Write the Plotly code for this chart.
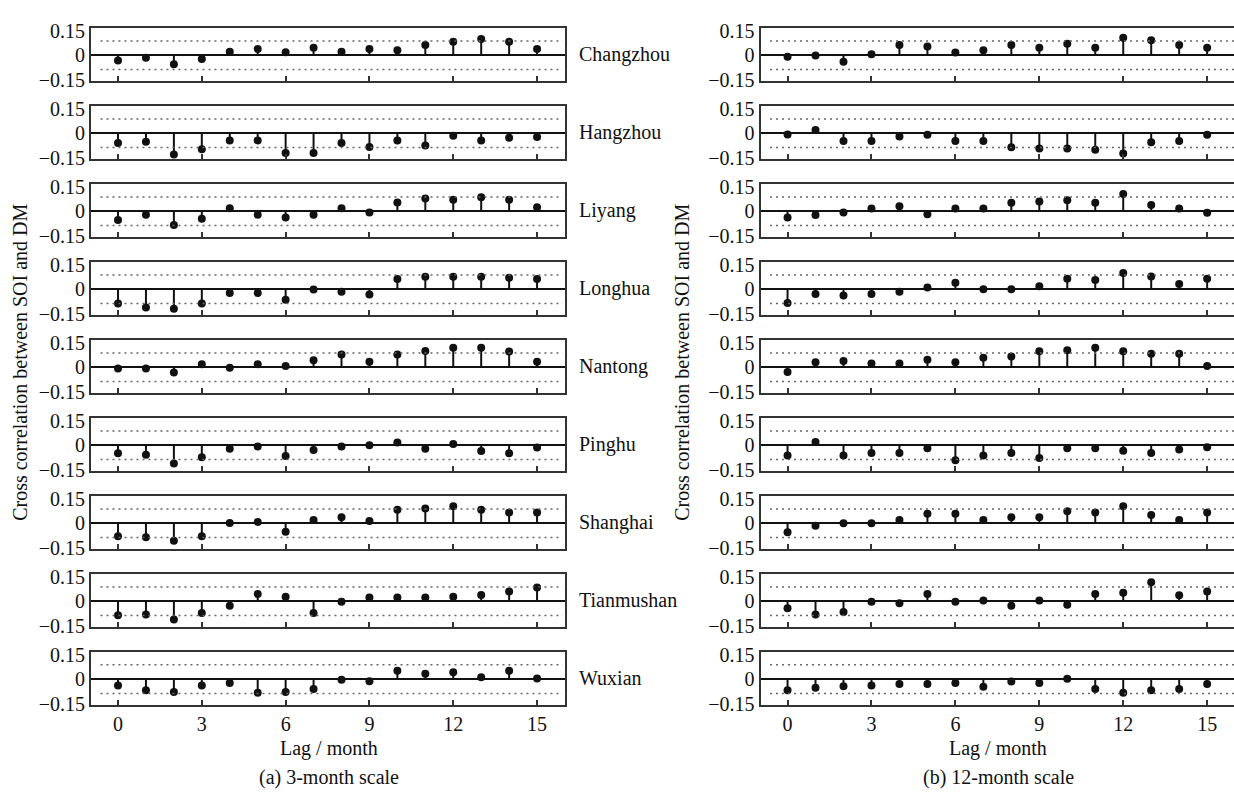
import plotly.graph_objects as go

# ---------------- data ----------------
lags = list(range(16))
x_tick_vals = [0, 3, 6, 9, 12, 15]
y_tick_vals = [-0.15, 0, 0.15]
y_tick_text = ["\u22120.15", "0", "0.15"]
conf_level = 0.088

stations = ["Changzhou", "Hangzhou", "Liyang", "Longhua", "Nantong",
            "Pinghu", "Shanghai", "Tianmushan", "Wuxian"]

# (a) 3-month scale
changzhou_3 = [-0.032, -0.016, -0.056, -0.024, 0.022, 0.038, 0.018, 0.046, 0.022, 0.038, 0.030, 0.062, 0.082, 0.100, 0.082, 0.038]
hangzhou_3 = [-0.060, -0.052, -0.130, -0.098, -0.044, -0.044, -0.122, -0.122, -0.060, -0.084, -0.044, -0.076, -0.016, -0.044, -0.028, -0.024]
liyang_3 = [-0.054, -0.022, -0.084, -0.046, 0.018, -0.022, -0.038, -0.022, 0.018, -0.008, 0.054, 0.078, 0.070, 0.086, 0.070, 0.024]
longhua_3 = [-0.088, -0.112, -0.120, -0.088, -0.024, -0.024, -0.064, -0.002, -0.016, -0.032, 0.062, 0.076, 0.076, 0.076, 0.070, 0.062]
nantong_3 = [-0.008, -0.008, -0.032, 0.018, -0.004, 0.018, 0.008, 0.042, 0.078, 0.034, 0.078, 0.100, 0.120, 0.120, 0.096, 0.034]
pinghu_3 = [-0.050, -0.058, -0.112, -0.074, -0.022, -0.008, -0.066, -0.030, -0.008, 0.000, 0.016, -0.022, 0.008, -0.036, -0.050, -0.014]
shanghai_3 = [-0.080, -0.086, -0.108, -0.080, 0.002, 0.008, -0.052, 0.020, 0.036, 0.014, 0.082, 0.090, 0.104, 0.082, 0.066, 0.066]
tianmushan_3 = [-0.086, -0.082, -0.112, -0.072, -0.028, 0.044, 0.028, -0.072, -0.004, 0.022, 0.022, 0.022, 0.028, 0.038, 0.060, 0.084]
wuxian_3 = [-0.038, -0.068, -0.078, -0.038, -0.024, -0.084, -0.078, -0.060, -0.004, -0.012, 0.052, 0.034, 0.042, 0.012, 0.052, 0.004]

# (b) 12-month scale
changzhou_12 = [-0.010, -0.002, -0.040, 0.006, 0.062, 0.054, 0.016, 0.030, 0.062, 0.046, 0.070, 0.046, 0.108, 0.092, 0.062, 0.046]
hangzhou_12 = [-0.008, 0.020, -0.048, -0.048, -0.020, -0.010, -0.048, -0.048, -0.086, -0.094, -0.094, -0.102, -0.124, -0.056, -0.048, -0.010]
liyang_12 = [-0.038, -0.024, -0.008, 0.016, 0.030, -0.018, 0.016, 0.016, 0.052, 0.060, 0.068, 0.052, 0.106, 0.038, 0.016, -0.010]
longhua_12 = [-0.084, -0.030, -0.038, -0.030, -0.016, 0.010, 0.040, 0.000, 0.000, 0.018, 0.064, 0.056, 0.100, 0.078, 0.032, 0.064]
nantong_12 = [-0.030, 0.030, 0.038, 0.022, 0.022, 0.046, 0.030, 0.058, 0.066, 0.098, 0.104, 0.120, 0.098, 0.082, 0.082, 0.008]
pinghu_12 = [-0.064, 0.020, -0.064, -0.048, -0.048, -0.018, -0.092, -0.064, -0.048, -0.078, -0.018, -0.018, -0.034, -0.048, -0.026, -0.012]
shanghai_12 = [-0.056, -0.016, 0.000, 0.000, 0.020, 0.058, 0.058, 0.020, 0.036, 0.036, 0.074, 0.066, 0.104, 0.050, 0.020, 0.066]
tianmushan_12 = [-0.044, -0.082, -0.066, -0.004, -0.012, 0.044, -0.004, 0.004, -0.028, 0.004, -0.022, 0.044, 0.052, 0.116, 0.036, 0.060]
wuxian_12 = [-0.068, -0.052, -0.044, -0.038, -0.030, -0.030, -0.024, -0.046, -0.014, -0.024, 0.002, -0.060, -0.084, -0.068, -0.060, -0.030]

series_3 = [changzhou_3, hangzhou_3, liyang_3, longhua_3, nantong_3,
            pinghu_3, shanghai_3, tianmushan_3, wuxian_3]
series_12 = [changzhou_12, hangzhou_12, liyang_12, longhua_12, nantong_12,
             pinghu_12, shanghai_12, tianmushan_12, wuxian_12]

# ---------------- layout geometry (pixels) ----------------
W, H = 1234, 797
FONT = "Liberation Serif, Times New Roman, serif"
FS = 20
TXT = "#111111"
BORDER = "#333333"

def px_x(p):
    return p / W

def px_y(p):
    return 1 - p / H

zero0 = 47.3
pitch = 79.8
above = 27.5
below = 26.8

panels = [
    dict(series=series_3, x0=91, x1=565, xr=[-0.967, 16.0], mirror=True),
    dict(series=series_12, x0=760.5, x1=W, xr=[-0.967, 15.96], mirror=False),
]

fig = go.Figure()
layout = dict(
    width=W, height=H,
    margin=dict(l=0, r=0, t=0, b=0),
    paper_bgcolor="white", plot_bgcolor="white",
    showlegend=False,
    font=dict(family=FONT, size=FS, color=TXT),
)
shapes = []
annotations = []

idx = 0
for p_i, panel in enumerate(panels):
    for r, vals in enumerate(panel["series"]):
        idx += 1
        xa = "x" if idx == 1 else f"x{idx}"
        ya = "y" if idx == 1 else f"y{idx}"
        xkey = "xaxis" if idx == 1 else f"xaxis{idx}"
        ykey = "yaxis" if idx == 1 else f"yaxis{idx}"
        zy = zero0 + pitch * r
        top = zy - above
        bot = zy + below
        last = (r == len(panel["series"]) - 1)

        layout[xkey] = dict(
            domain=[px_x(panel["x0"]), px_x(panel["x1"])],
            range=panel["xr"], anchor=ya,
            showgrid=False, zeroline=False,
            showline=True, linecolor=BORDER, linewidth=2, mirror=True,
            ticks="inside", ticklen=5, tickwidth=2, tickcolor=BORDER,
            tickvals=x_tick_vals, showticklabels=last,
            tickfont=dict(family=FONT, size=FS, color=TXT),
        )
        layout[ykey] = dict(
            domain=[px_y(bot), px_y(top)],
            range=[-0.161, 0.165], anchor=xa,
            showgrid=False,
            zeroline=True, zerolinecolor="#111111", zerolinewidth=2,
            showline=True, linecolor=BORDER, linewidth=2,
            mirror=panel["mirror"],
            ticks="", tickvals=y_tick_vals, ticktext=y_tick_text,
            tickfont=dict(family=FONT, size=FS, color=TXT),
        )

        # stems
        sx, sy = [], []
        for lag, v in zip(lags, vals):
            sx += [lag, lag, None]
            sy += [0, v, None]
        fig.add_trace(go.Scatter(x=sx, y=sy, mode="lines", xaxis=xa, yaxis=ya,
                                 line=dict(color="#111111", width=2),
                                 hoverinfo="skip"))
        fig.add_trace(go.Scatter(x=lags, y=vals, mode="markers", xaxis=xa, yaxis=ya,
                                 marker=dict(color="#111111", size=8)))

        # confidence (dotted) lines
        for c in (conf_level, -conf_level):
            shapes.append(dict(type="line", xref=f"{xa} domain", yref=ya,
                               x0=0.02, x1=0.995 if panel["mirror"] else 1.0,
                               y0=c, y1=c,
                               line=dict(color="#666666", width=1.5, dash="2px,4px")))

        if p_i == 0:
            annotations.append(dict(text=stations[r], xref="paper", yref="paper",
                                    x=px_x(577), y=px_y(zy - 1), xanchor="left",
                                    yanchor="middle", showarrow=False,
                                    font=dict(family=FONT, size=FS, color=TXT)))

# axis titles and captions
for cx, cap in ((329, "(a) 3-month scale"), (998, "(b) 12-month scale")):
    annotations.append(dict(text="Lag / month", xref="paper", yref="paper",
                            x=px_x(cx), y=px_y(757), xanchor="center", yanchor="middle",
                            showarrow=False, font=dict(family=FONT, size=FS, color=TXT)))
    annotations.append(dict(text=cap, xref="paper", yref="paper",
                            x=px_x(cx), y=px_y(786), xanchor="center", yanchor="middle",
                            showarrow=False, font=dict(family=FONT, size=FS, color=TXT)))
for tx in (20, 682):
    annotations.append(dict(text="Cross correlation between SOI and DM", xref="paper", yref="paper",
                            x=px_x(tx), y=px_y(362), xanchor="center", yanchor="middle",
                            textangle=-90, showarrow=False,
                            font=dict(family=FONT, size=FS, color=TXT)))

layout["shapes"] = shapes
layout["annotations"] = annotations
fig.update_layout(**layout)
fig.write_html("out.html")
